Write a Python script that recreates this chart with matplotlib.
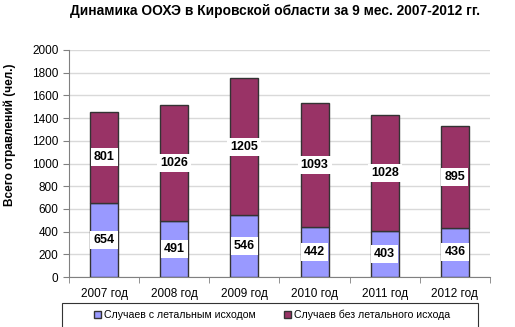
import matplotlib.pyplot as plt
from matplotlib.patches import Rectangle
import numpy as np

years = ['2007 год', '2008 год', '2009 год', '2010 год', '2011 год', '2012 год']
lethal = [654, 491, 546, 442, 403, 436]
nonlethal = [801, 1026, 1205, 1093, 1028, 895]

plt.rcParams['font.family'] = ['Liberation Sans', 'DejaVu Sans']

fig = plt.figure(figsize=(5.15, 3.27), dpi=100)
ax = fig.add_axes([69/515, 1 - 277/327, 421/515, 227/327])

x = np.arange(len(years))
w = 0.4
ax.bar(x, lethal, w, color='#9999FF', edgecolor='#333333', linewidth=1,
       label='Случаев с летальным исходом', zorder=3)
ax.bar(x, nonlethal, w, bottom=lethal, color='#993366', edgecolor='#333333', linewidth=1,
       label='Случаев без летального исхода', zorder=3)

box = dict(boxstyle='square,pad=0.25', facecolor='white', edgecolor='none')
for i in range(len(years)):
    ax.text(x[i], lethal[i] / 2, str(lethal[i]), ha='center', va='center',
            fontsize=9, fontweight='bold', bbox=box, zorder=4)
    ax.text(x[i], lethal[i] + nonlethal[i] / 2, str(nonlethal[i]), ha='center', va='center',
            fontsize=9, fontweight='bold', bbox=box, zorder=4)

ax.set_xlim(-0.5, 5.5)
ax.set_ylim(0, 2000)
ax.set_yticks(range(0, 2001, 200))
ax.set_xticks(x)
ax.set_xticklabels(years)
ax.set_xticks(np.arange(-0.5, 6, 1), minor=True)
ax.tick_params(axis='x', which='major', length=0, labelsize=8.5, pad=8)
ax.tick_params(axis='x', which='minor', length=4, color='#808080')
ax.tick_params(axis='y', length=4, color='#808080', labelsize=8.5)
ax.grid(axis='y', color='#d9d9d9', linewidth=1, zorder=0)
ax.set_axisbelow(True)
for s in ['top', 'right']:
    ax.spines[s].set_visible(False)
for s in ['left', 'bottom']:
    ax.spines[s].set_color('#808080')

# y label sits a bit above the axes centre, as in the original
fig.text(10/515, 1 - 135/327, 'Всего отравлений (чел.)', rotation=90,
         ha='center', va='center', fontsize=8.5, fontweight='bold')

fig.text(275/515, 1 - 11/327, 'Динамика ООХЭ в Кировской области за 9 мес. 2007-2012 гг.',
         ha='center', va='center', fontsize=9.9, fontweight='bold')

# legend frame (cut by the bottom edge of the image)
fig.patches.append(Rectangle((62/515, -0.05), 416/515, 0.05 + 1 - 303/327,
                             transform=fig.transFigure, fill=False,
                             edgecolor='#333333', linewidth=0.8))
fig.legend(loc='center', bbox_to_anchor=(272/515, 1 - 315/327), ncol=2, fontsize=7.6,
           frameon=False, handlelength=0.7, handleheight=0.7, handletextpad=0.3,
           columnspacing=2.6, borderpad=0)

fig.savefig('out.png', dpi=100)
